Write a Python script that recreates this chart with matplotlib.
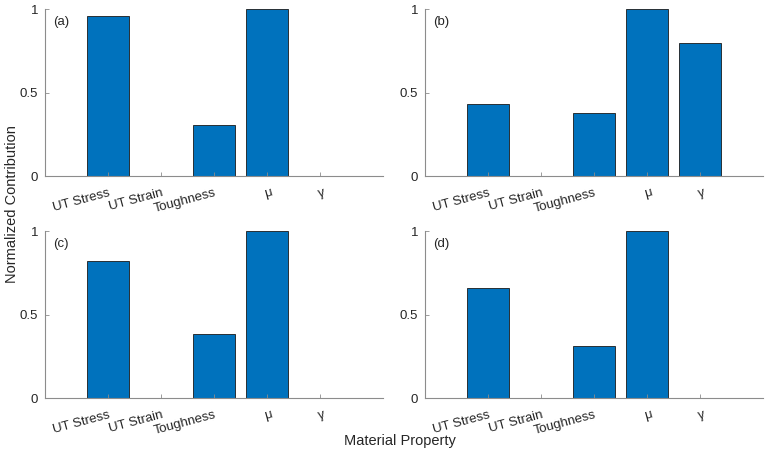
import numpy as np
import matplotlib.pyplot as plt

plt.rcParams['font.family'] = ['Liberation Sans', 'DejaVu Sans']

# data
categories = ['UT Stress', 'UT Strain', 'Toughness', 'μ', 'γ']
panel_labels = ['(a)', '(b)', '(c)', '(d)']
vals_a = [0.96, 0.0, 0.305, 1.0, 0.0]
vals_b = [0.43, 0.0, 0.38, 1.0, 0.80]
vals_c = [0.82, 0.0, 0.385, 1.0, 0.0]
vals_d = [0.66, 0.0, 0.31, 1.0, 0.0]
all_vals = [vals_a, vals_b, vals_c, vals_d]

bar_color = '#0072BD'
axis_color = '#8c8c8c'

fig = plt.figure(figsize=(7.66, 4.58), dpi=100)

# axes rectangles [left, bottom, width, height] in figure fractions
lefts = [0.0587, 0.5548]
bottoms = [0.6157, 0.131]
w = 0.4413
h = 0.3643

x = np.arange(1, len(categories) + 1)
for i, vals in enumerate(all_vals):
    row, col = divmod(i, 2)
    ax = fig.add_axes([lefts[col], bottoms[row], w, h])
    ax.bar(x, vals, width=0.8, color=bar_color, edgecolor='#1a1a1a', linewidth=0.6, zorder=1)
    ax.set_axisbelow(False)
    ax.set_xlim(-0.2, 6.2)
    ax.set_ylim(0, 1)
    ax.set_yticks([0, 0.5, 1])
    ax.set_yticklabels(['0', '0.5', '1'])
    ax.set_xticks(x)
    ax.set_xticklabels(categories, rotation=15, ha='right', rotation_mode='anchor')
    # greek labels look smaller in the original
    for lab in ax.get_xticklabels()[3:]:
        lab.set_fontsize(8)
        lab.set_ha('center')
    for sp in ['top', 'right']:
        ax.spines[sp].set_visible(False)
    for sp in ['left', 'bottom']:
        ax.spines[sp].set_color(axis_color)
        ax.spines[sp].set_linewidth(0.8)
    ax.tick_params(direction='in', length=3, width=0.6, color=axis_color,
                   labelsize=9.5, labelcolor='#262626')
    ax.tick_params(axis='x', pad=8)
    ax.tick_params(axis='y', pad=5)
    ax.text(0.025, 0.96, panel_labels[i], transform=ax.transAxes,
            fontsize=9.5, va='top', ha='left', color='#262626')

fig.text(0.016, 0.555, 'Normalized Contribution', rotation=90, va='center', ha='center',
         fontsize=10.5, color='#262626')
fig.text(0.522, 0.037, 'Material Property', va='center', ha='center',
         fontsize=10.5, color='#262626')

fig.savefig('out.png', dpi=100)
